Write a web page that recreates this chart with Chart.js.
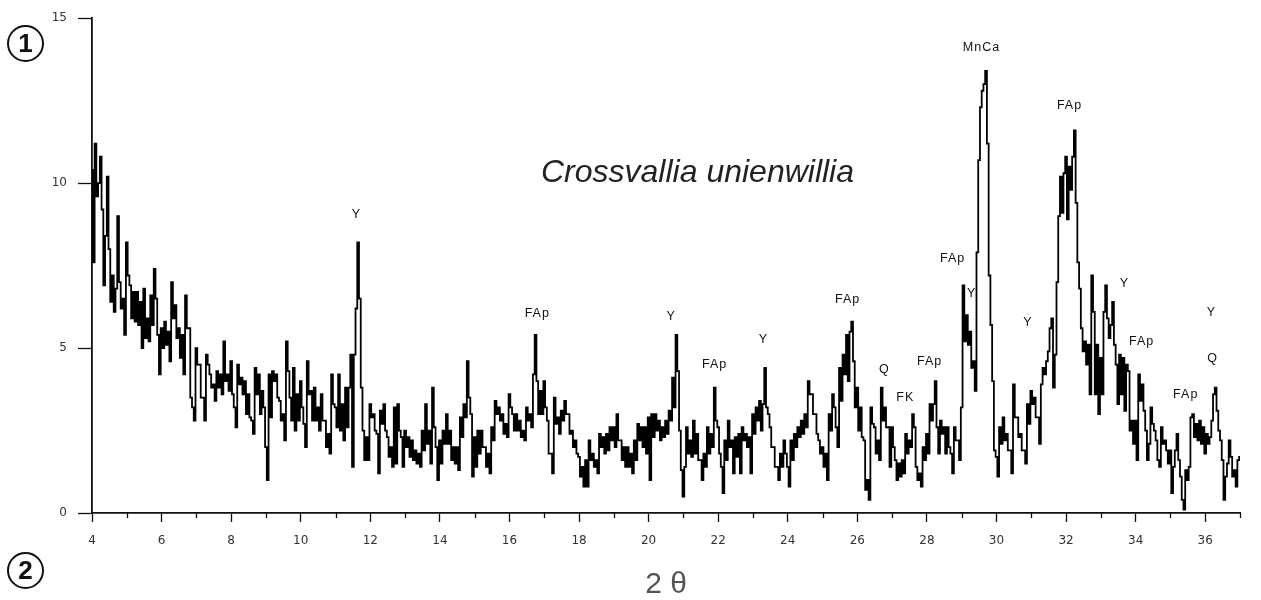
<!DOCTYPE html>
<html>
<head>
<meta charset="utf-8">
<title>Crossvallia unienwillia</title>
<script src="https://cdn.jsdelivr.net/npm/chart.js@4"></script>
<style>
	body { margin: 0; background: #fff; }
	#wrap { position: relative; width: 1261px; height: 600px; }
	#xrd { position: absolute; left: 0; top: 0; }
	.circled {
		position: absolute;
		width: 33px;
		height: 33px;
		border: 2px solid #111;
		border-radius: 50%;
		font: bold 26px "Liberation Sans", Arial, sans-serif;
		line-height: 33px;
		text-align: center;
		color: #111;
	}
	#species {
		position: absolute;
		left: 541px;
		top: 155px;
		font: italic 32px "Liberation Sans", Arial, sans-serif;
		line-height: 1;
		color: #222;
		white-space: nowrap;
	}
	#axisTitle {
		position: absolute;
		left: 566px;
		width: 200px;
		top: 568px;
		text-align: center;
		font: 30px "Liberation Sans", Arial, sans-serif;
		line-height: 1;
		color: #555;
	}
</style>
</head>
<body>
<div id="wrap">
	<canvas id="xrd" width="1261" height="600"></canvas>
	<div class="circled" style="left:7px; top:25px;">1</div>
	<div class="circled" style="left:7px; top:552px;">2</div>
	<div id="species">Crossvallia unienwillia</div>
	<div id="axisTitle">2 θ</div>
</div>
<script>
/* diffractogram counts, one value every 0.05 degree 2-theta */
const angleStart = 4;
const angleStep = 0.05;

const counts04to10 = [
	10.4, 7.6, 11.2, 9.6, 10.0, 10.8, 9.2, 6.9, 8.4, 10.2, 8.0, 6.4, 7.2, 6.1, 6.8, 9.0, 7.0, 6.2, 6.5, 5.4,
	8.2, 7.2, 6.9, 5.9, 6.7, 5.8, 6.7, 5.7, 6.4, 5.0, 6.8, 5.3, 5.9, 5.2, 6.6, 5.7, 7.4, 6.5, 5.4, 4.2,
	5.6, 5.0, 5.8, 5.1, 5.5, 4.6, 7.0, 5.9, 6.3, 5.3, 5.6, 4.7, 5.4, 4.2, 6.6, 5.6, 5.6, 3.5, 3.2, 2.8,
	5.0, 4.5, 4.5, 3.5, 3.5, 2.8, 4.8, 4.5, 4.2, 3.8, 3.9, 3.4, 4.3, 3.8, 4.2, 3.6, 5.2, 4.0, 4.2, 3.7,
	4.6, 3.6, 3.2, 2.6, 4.5, 3.9, 4.1, 3.6, 4.0, 3.0, 3.6, 2.9, 2.8, 2.4, 4.4, 3.6, 4.2, 3.0, 3.7, 3.2,
	2.0, 1.0, 4.2, 2.9, 4.3, 4.0, 4.2, 3.5, 3.4, 2.8, 3.0, 2.2, 5.2, 4.3, 3.5, 2.8, 4.4, 2.5, 3.6, 2.8
];
const counts10to16 = [
	4.0, 3.2, 2.7, 2.0, 4.6, 3.6, 3.7, 2.8, 3.8, 2.8, 3.2, 2.5, 3.6, 2.8, 2.8, 2.0, 2.4, 1.8, 4.2, 3.3,
	3.2, 2.6, 4.2, 2.5, 3.3, 2.2, 3.8, 2.6, 3.8, 4.8, 1.4, 4.8, 6.2, 8.2, 6.5, 3.8, 2.5, 1.6, 2.3, 1.6,
	3.3, 2.9, 3.0, 2.5, 2.4, 1.2, 3.1, 2.7, 3.3, 2.5, 2.3, 1.7, 2.0, 1.4, 3.2, 1.5, 3.3, 2.5, 2.3, 1.4,
	2.5, 2.0, 2.3, 1.7, 2.2, 1.6, 1.9, 1.5, 1.8, 1.4, 2.5, 1.9, 3.3, 2.1, 2.5, 1.5, 3.8, 2.6, 2.0, 1.0,
	2.2, 1.5, 2.5, 2.1, 3.0, 2.1, 2.5, 1.6, 2.0, 1.5, 2.0, 1.3, 2.9, 2.3, 3.3, 2.9, 4.6, 3.5, 3.0, 1.1,
	2.3, 1.4, 2.5, 1.8, 2.5, 2.0, 2.0, 1.4, 1.8, 1.2, 2.6, 2.2, 3.4, 3.0, 3.2, 2.8, 3.0, 2.4, 2.7, 2.3
];
const counts16to22 = [
	3.6, 3.2, 3.0, 2.5, 3.0, 2.5, 2.8, 2.3, 2.5, 2.2, 3.2, 2.8, 3.0, 2.6, 4.2, 5.4, 4.0, 3.0, 3.7, 3.0,
	4.0, 3.2, 2.8, 1.8, 1.8, 1.2, 3.5, 2.7, 2.9, 2.4, 3.1, 2.8, 3.4, 3.0, 3.0, 2.4, 2.5, 2.0, 2.2, 1.8,
	1.7, 1.1, 1.4, 0.8, 1.6, 0.8, 2.2, 1.6, 1.8, 1.4, 1.6, 1.2, 2.4, 2.0, 2.3, 1.8, 2.4, 1.9, 2.6, 2.2,
	2.6, 2.0, 3.0, 2.2, 2.2, 1.6, 2.0, 1.4, 2.0, 1.4, 1.8, 1.2, 2.2, 1.6, 2.7, 2.2, 2.6, 2.0, 2.6, 1.8,
	2.9, 1.0, 3.0, 2.3, 3.0, 2.5, 2.8, 2.2, 2.6, 2.3, 2.8, 2.4, 3.1, 2.8, 4.1, 3.2, 5.4, 4.3, 2.5, 1.3,
	0.5, 1.4, 2.6, 1.8, 2.2, 1.7, 2.8, 1.8, 2.4, 1.6, 1.6, 1.0, 1.8, 1.4, 2.6, 1.8, 2.4, 2.0, 3.8, 2.8
];
const counts22to28 = [
	2.6, 1.8, 1.4, 0.6, 2.2, 1.6, 2.8, 2.0, 2.2, 1.2, 2.3, 1.7, 2.4, 1.2, 2.6, 2.2, 2.4, 2.0, 2.3, 1.2,
	3.0, 2.4, 3.2, 2.8, 3.4, 2.5, 3.3, 4.4, 3.2, 3.0, 2.6, 2.0, 2.0, 1.4, 1.4, 1.0, 1.8, 1.4, 2.2, 1.8,
	1.4, 0.8, 2.2, 1.6, 2.4, 2.0, 2.6, 2.3, 2.8, 2.4, 3.0, 2.6, 4.0, 3.6, 3.6, 3.0, 3.0, 2.4, 2.2, 1.8,
	2.0, 1.4, 1.8, 1.0, 3.0, 2.5, 3.6, 3.2, 2.6, 2.0, 4.4, 3.4, 4.8, 4.2, 5.4, 4.0, 5.5, 5.8, 4.6, 3.2,
	3.8, 2.5, 3.2, 2.3, 2.2, 0.7, 1.0, 0.4, 3.2, 2.7, 2.6, 1.8, 2.2, 1.6, 3.8, 2.8, 3.2, 2.6, 2.6, 1.4,
	2.6, 2.0, 1.6, 1.0, 1.5, 1.1, 1.6, 1.2, 2.4, 1.8, 2.2, 2.0, 3.0, 2.6, 1.4, 1.0, 1.2, 0.8, 2.0, 1.6
];
const counts28to34 = [
	2.4, 1.8, 3.3, 2.8, 3.3, 4.0, 2.6, 1.8, 2.8, 2.4, 2.6, 1.8, 2.6, 2.0, 1.8, 1.2, 2.6, 2.2, 2.2, 1.6,
	3.2, 6.9, 5.2, 6.0, 5.1, 5.5, 4.4, 4.6, 3.7, 7.9, 10.7, 12.3, 12.8, 13.0, 13.4, 11.2, 7.2, 5.7, 4.0, 1.9,
	1.7, 1.1, 2.6, 2.1, 2.9, 2.2, 2.4, 1.9, 1.9, 1.2, 3.9, 2.9, 2.9, 2.3, 2.4, 1.9, 1.9, 1.5, 3.3, 2.7,
	3.7, 3.3, 3.5, 2.9, 2.9, 2.1, 3.9, 4.4, 4.2, 4.6, 4.9, 5.6, 5.9, 3.8, 4.8, 7.0, 9.0, 10.2, 9.1, 10.3,
	10.8, 8.9, 10.5, 9.8, 10.8, 11.6, 9.4, 7.6, 6.8, 5.6, 4.9, 5.2, 4.5, 5.1, 3.6, 7.2, 6.1, 3.6, 5.1, 3.0,
	4.7, 3.6, 6.1, 6.9, 5.9, 5.3, 5.7, 6.4, 5.1, 4.5, 3.3, 4.8, 3.6, 4.7, 3.1, 4.5, 4.3, 2.5, 2.8, 2.1
];
const counts34to37 = [
	2.8, 1.6, 4.2, 3.4, 3.9, 3.1, 2.5, 1.6, 2.1, 3.2, 2.7, 2.5, 2.2, 1.6, 1.4, 2.6, 2.1, 2.2, 1.9, 1.5,
	1.9, 0.6, 1.4, 1.9, 2.4, 1.6, 1.1, 0.4, 0.1, 1.3, 1.0, 1.4, 2.9, 3.0, 2.3, 2.7, 2.2, 2.8, 2.1, 2.6,
	1.8, 2.4, 2.1, 2.3, 2.8, 3.6, 3.8, 3.1, 2.5, 2.2, 1.6, 0.4, 1.1, 1.5, 2.2, 1.7, 1.1, 1.3, 0.8, 1.6,
	1.7
];

/* phase labels written over the peaks */
const peakLabels = ["Y", "FAp", "Y", "FAp", "Y", "FAp", "Q", "FK", "FAp", "FAp", "Y", "MnCa", "Y", "FAp", "Y", "FAp", "FAp", "Y", "Q"];
const peakAngles = [11.6, 16.8, 20.65, 21.9, 23.3, 25.72, 26.78, 27.38, 28.08, 28.74, 29.29, 29.57, 30.9, 32.1, 33.68, 34.17, 35.44, 36.18, 36.21];
const peakHeights = [9.05, 6.05, 5.95, 4.5, 5.25, 6.47, 4.35, 3.5, 4.6, 7.7, 6.65, 14.1, 5.77, 12.35, 6.95, 5.2, 3.6, 6.07, 4.68];

const xMajorTicks = [4, 6, 8, 10, 12, 14, 16, 18, 20, 22, 24, 26, 28, 30, 32, 34, 36];
const xMinorTicks = [5, 7, 9, 11, 13, 15, 17, 19, 21, 23, 25, 27, 29, 31, 33, 35, 37];
const yTicks = [0, 5, 10, 15];

const allCounts = [].concat(counts04to10, counts10to16, counts16to22, counts22to28, counts28to34, counts34to37);
const points = allCounts.map((c, i) => ({ x: +(angleStart + i * angleStep).toFixed(2), y: c }));

const tickFont = { family: "'DejaVu Sans', sans-serif", size: 12 };

/*short unlabelled ticks at the odd angles*/
const minorTicks = {
	id: "minorTicks",
	afterDraw(chart) {
		const { ctx, scales } = chart;
		const x = scales.x;
		ctx.save();
		ctx.strokeStyle = "#111";
		ctx.lineWidth = 1.3;
		xMinorTicks.forEach((v) => {
			const px = Math.round(x.getPixelForValue(v)) + 0.5;
			ctx.beginPath();
			ctx.moveTo(px, x.top);
			ctx.lineTo(px, x.top + 5);
			ctx.stroke();
		});
		ctx.restore();
	},
};

const phaseLabels = {
	id: "phaseLabels",
	afterDatasetsDraw(chart) {
		const { ctx, scales } = chart;
		ctx.save();
		ctx.font = '12.5px "Liberation Sans", Arial, sans-serif';
		ctx.letterSpacing = "1px";
		ctx.fillStyle = "#111";
		ctx.textAlign = "center";
		ctx.textBaseline = "middle";
		peakLabels.forEach((label, i) => {
			ctx.fillText(
				label,
				scales.x.getPixelForValue(peakAngles[i]),
				scales.y.getPixelForValue(peakHeights[i])
			);
		});
		ctx.restore();
	},
};

new Chart(document.getElementById("xrd"), {
	type: "line",
	data: {
		datasets: [
			{
				data: points,
				borderColor: "#000",
				borderWidth: 1.8,
				pointRadius: 0,
				stepped: "middle",
				fill: false,
			},
		],
	},
	options: {
		responsive: false,
		devicePixelRatio: 1,
		animation: false,
		events: [],
		layout: { padding: { top: 16, right: 21, left: 0, bottom: 0 } },
		plugins: { legend: { display: false }, tooltip: { enabled: false } },
		scales: {
			x: {
				type: "linear",
				min: 4,
				max: 37,
				afterBuildTicks: (scale) => {
					scale.ticks = xMajorTicks.map((v) => ({ value: v }));
				},
				afterFit: (scale) => {
					scale.height = 87;
				},
				ticks: { font: tickFont, color: "#333", padding: 12, maxRotation: 0, autoSkip: false },
				grid: { drawOnChartArea: false, tickLength: 9, tickColor: "#111", tickWidth: 1.3 },
				border: { color: "#111", width: 1.8 },
			},
			y: {
				min: 0,
				max: 15,
				afterBuildTicks: (scale) => {
					scale.ticks = yTicks.map((v) => ({ value: v }));
				},
				afterFit: (scale) => {
					scale.width = 92;
				},
				ticks: { font: tickFont, color: "#333", padding: 11 },
				grid: { drawOnChartArea: false, tickLength: 14, tickColor: "#111", tickWidth: 1.3 },
				border: { color: "#111", width: 1.8 },
			},
		},
	},
	plugins: [minorTicks, phaseLabels],
});
</script>
</body>
</html>
